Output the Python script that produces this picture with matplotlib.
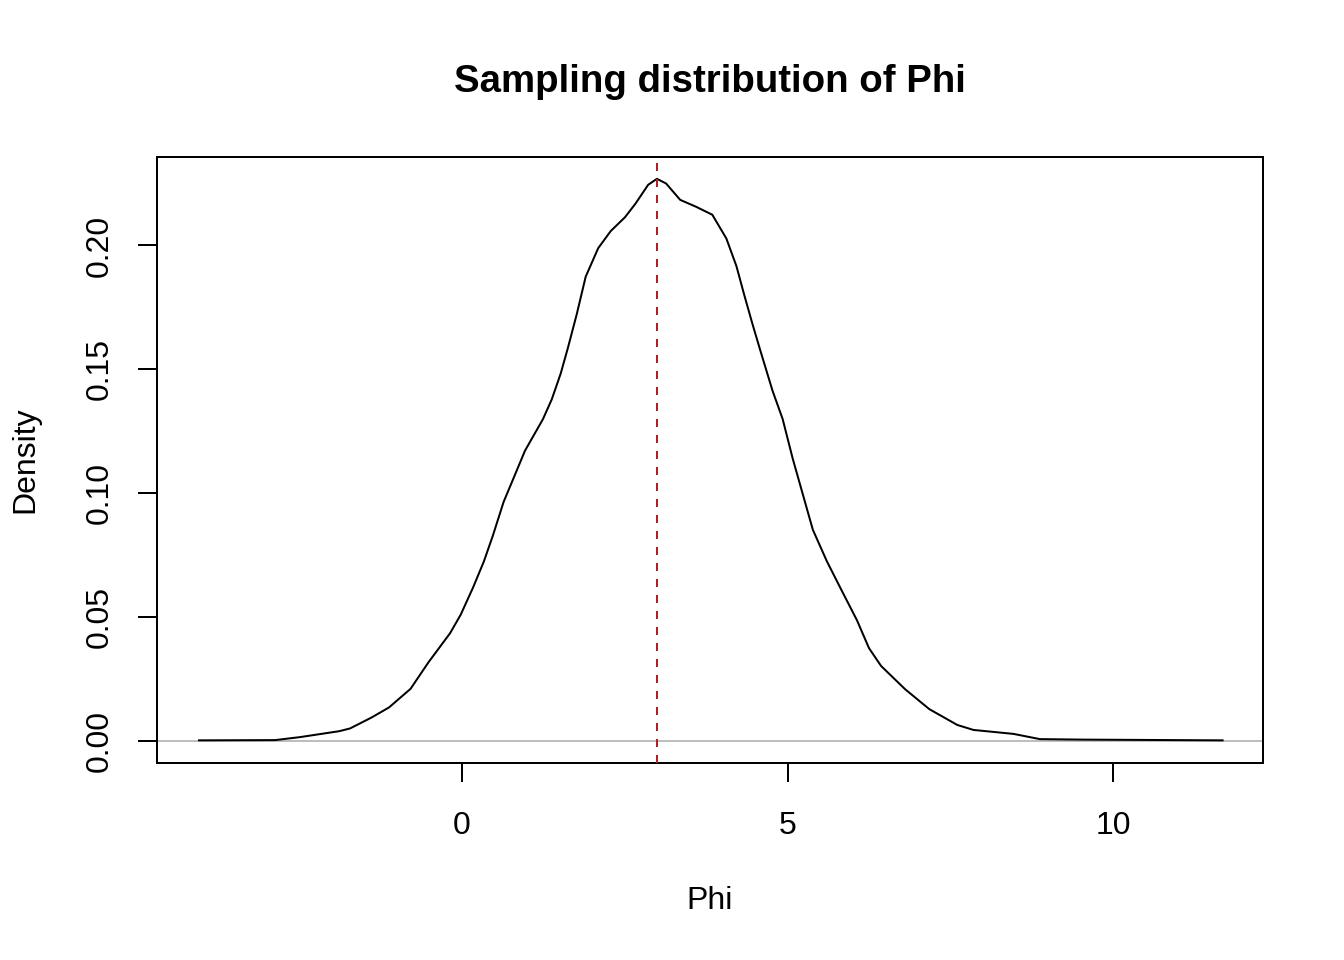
import matplotlib
matplotlib.use("Agg")
import matplotlib.pyplot as plt

# density estimate
phi = [-4.04, -2.87, -2.49, -1.885, -1.72, -1.39, -1.12, -0.79, -0.515, -0.184,
       -0.02, 0.172, 0.336, 0.474, 0.639, 0.803, 0.968, 1.243, 1.379, 1.516,
       1.627, 1.763, 1.9, 2.092, 2.284, 2.504, 2.668, 2.86, 2.995, 3.135,
       3.352, 3.597, 3.845, 4.061, 4.215, 4.339, 4.462, 4.585, 4.771, 4.925,
       5.08, 5.234, 5.389, 5.604, 5.82, 6.068, 6.252, 6.438, 6.808, 7.178,
       7.609, 7.857, 8.473, 8.876, 9.524, 11.683]
density = [0.0003, 0.0004, 0.0016, 0.004, 0.0051, 0.0095, 0.0136, 0.0211, 0.0318, 0.0435,
           0.051, 0.0621, 0.0725, 0.0829, 0.0965, 0.1068, 0.1172, 0.1299, 0.1379, 0.1483,
           0.1587, 0.1723, 0.1874, 0.1989, 0.2058, 0.2114, 0.217, 0.2245, 0.2269, 0.225,
           0.2184, 0.2156, 0.2124, 0.2028, 0.1917, 0.1797, 0.1683, 0.1574, 0.1413, 0.13,
           0.114, 0.0997, 0.0853, 0.0726, 0.0614, 0.0487, 0.0375, 0.0303, 0.0209, 0.0129,
           0.0065, 0.0045, 0.0029, 0.0008, 0.0006, 0.0003]
true_phi = 3.0

x_ticks = [0, 5, 10]
y_ticks = [0.00, 0.05, 0.10, 0.15, 0.20]

plt.rcParams['font.family'] = ['Liberation Sans', 'DejaVu Sans']
plt.rcParams['font.size'] = 12

fig = plt.figure(figsize=(7, 5), dpi=192)
ax = fig.add_axes([157 / 1344, 1 - 763 / 960, (1263 - 157) / 1344, (763 - 157) / 960])

ax.axhline(0, color='#BEBEBE', lw=0.75, zorder=1)
ax.plot(phi, density, color='black', lw=0.75, zorder=2, solid_joinstyle='round')
ax.axvline(true_phi, color='#B22222', lw=0.75, ls=(0, (4, 4)), zorder=3)

ax.set_xlim(-4.685, 12.304)
ax.set_ylim(-0.00884, 0.2357)
ax.set_xticks(x_ticks)
ax.set_xticklabels([str(t) for t in x_ticks])
ax.set_yticks(y_ticks)
ax.set_yticklabels([f"{t:.2f}" for t in y_ticks], rotation=90, va='center')
ax.tick_params(direction='out', length=7, width=0.75, pad=9)
ax.tick_params(axis='x', pad=11)

for s in ax.spines.values():
    s.set_linewidth(0.75)

fig.text(710 / 1344, 1 - 901 / 960, "Phi", ha='center', va='center')
fig.text(25 / 1344, 1 - 460 / 960, "Density", ha='center', va='center', rotation=90)
fig.text(710 / 1344, 1 - 82 / 960, "Sampling distribution of Phi",
         ha='center', va='center', fontsize=14.4, fontweight='bold')

fig.savefig("out.png", dpi=192)
